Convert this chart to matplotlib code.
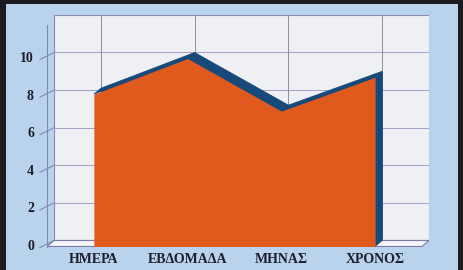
import matplotlib
matplotlib.use('Agg')
import matplotlib.pyplot as plt
from matplotlib.patches import Polygon, Rectangle

# data
categories = ['ΗΜΕΡΑ', 'ΕΒΔΟΜΑΔΑ', 'ΜΗΝΑΣ', 'ΧΡΟΝΟΣ']
values = [8.1, 10.0, 7.2, 9.0]
yticks = [0, 2, 4, 6, 8, 10]

bg = '#b9d3ec'
wall = '#eef0f3'
grid_c = '#a5a0c4'
orange = '#e05a1e'
blue = '#17497a'
txt = '#1e1e2c'

dx, dy = 0.075, 0.32   # fake 3d depth, in data units

fig = plt.figure(figsize=(4.64, 2.70), dpi=100)
fig.patch.set_facecolor(bg)
ax = fig.add_axes([47/464, 23.5/270, 382/464, 231.6/270])
ax.set_xlim(-0.5, 3.5 + dx)
ax.set_ylim(0, 12 + dy)
ax.axis('off')

x = list(range(len(categories)))
x0, x1 = -0.5, 3.5

# back wall + floor
ax.add_patch(Rectangle((x0 + dx, dy), 4, 12, fc=wall, ec='#8c88b4', lw=0.8, zorder=1))
ax.add_patch(Polygon([(x0, 0), (x1, 0), (x1 + dx, dy), (x0 + dx, dy)],
                     closed=True, fc='#f4f4f6', ec='#7c78a8', lw=0.8, zorder=1))
for v in range(2, 12, 2):
    ax.plot([x0 + dx, x1 + dx], [v + dy, v + dy], color=grid_c, lw=0.7, zorder=2)
for xi in x:
    ax.plot([xi + dx, xi + dx], [dy, 12 + dy], color='#8f8f9c', lw=0.7, zorder=2)

# left axis line and slanted ticks
ax.plot([x0, x0], [0, 11.8], color='#7c8cb0', lw=0.8, zorder=2, clip_on=False)
for v in yticks:
    ax.plot([x0 - 0.075, x0 + dx], [v - 0.05, v + dy], color='#7c8cb0', lw=0.8,
            zorder=2, clip_on=False)
    ax.text(x0 - 0.14, v, str(v), ha='right', va='center', fontsize=10,
            fontweight='bold', family='Liberation Serif', color=txt)

# 3d area: shifted back face, top faces, right side, then front
xs = [xx + dx for xx in x]
ys = [vv + dy for vv in values]
ax.fill_between(xs, dy, ys, color=blue, lw=0, zorder=3)
for i in range(len(x) - 1):
    ax.add_patch(Polygon([(x[i], values[i]), (x[i + 1], values[i + 1]),
                          (xs[i + 1], ys[i + 1]), (xs[i], ys[i])],
                         closed=True, fc=blue, ec=blue, lw=0.5, zorder=3))
ax.add_patch(Polygon([(x[-1], 0), (x[-1], values[-1]), (xs[-1], ys[-1]), (xs[-1], dy)],
                     closed=True, fc=blue, ec=blue, lw=0.5, zorder=3))
ax.fill_between(x, 0, values, color=orange, lw=0, zorder=4)

for xi, lab in zip(x, categories):
    ax.text(xi, -0.35, lab, ha='center', va='top', fontsize=10, fontweight='bold',
            family='Liberation Serif', color=txt)

# dark scan frame
fig.patches.append(Rectangle((0, 0), 6/464, 1, transform=fig.transFigure, fc='#1c1c1e', zorder=10))
fig.patches.append(Rectangle((458/464, 0), 6/464, 1, transform=fig.transFigure, fc='#1c1c1e', zorder=10))
fig.patches.append(Rectangle((0, 266/270), 1, 4/270, transform=fig.transFigure, fc='#1c1c1e', zorder=10))

fig.savefig('out.png', dpi=100, facecolor=bg)
